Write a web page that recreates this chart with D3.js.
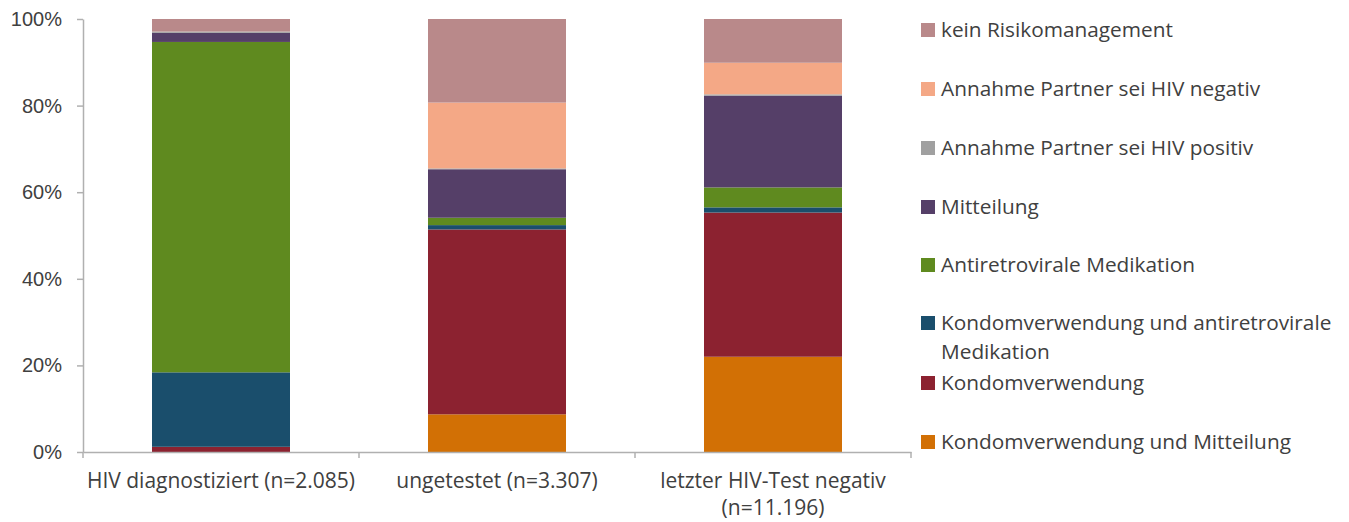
<!DOCTYPE html>
<html>
<head>
<meta charset="utf-8">
<script src="https://cdn.jsdelivr.net/npm/d3@7"></script>
<style>
  body { margin: 0; background: #fff; }
  svg { display: block; font-family: "Open Sans", Lato, sans-serif; }
  .axis path, .axis line { stroke: #b0b0b0; stroke-width: 1.5; }
  .axis text { fill: #404040; font-size: 20px; }
  .axis .cat-label { font-size: 21px; }
  .legend-text { fill: #404040; font-size: 20.8px; }
</style>
</head>
<body>
<svg></svg>
<script>
let width = 1349;
let height = 522;

let categories = ["HIV diagnostiziert (n=2.085)", "ungetestet (n=3.307)", "letzter HIV-Test negativ (n=11.196)"];
let categoryLines = [["HIV diagnostiziert (n=2.085)"], ["ungetestet (n=3.307)"], ["letzter HIV-Test negativ", "(n=11.196)"]];

// series, bottom to top of each bar
let seriesNames = [
  "Kondomverwendung und Mitteilung",
  "Kondomverwendung",
  "Kondomverwendung und antiretrovirale Medikation",
  "Antiretrovirale Medikation",
  "Mitteilung",
  "Annahme Partner sei HIV positiv",
  "Annahme Partner sei HIV negativ",
  "kein Risikomanagement"
];
let seriesColors = ["#d27005", "#8c2230", "#1a4e6c", "#5f8a1f", "#553f68", "#a0a0a0", "#f4a886", "#b9898a"];

let kondomMitteilung = [0.0, 8.7, 22.0];
let kondom = [1.2, 42.7, 33.3];
let kondomART = [17.2, 1.0, 1.2];
let art = [76.3, 1.7, 4.6];
let mitteilung = [2.1, 11.2, 21.2];
let partnerPositiv = [0.3, 0.2, 0.3];
let partnerNegativ = [0.0, 15.2, 7.3];
let keinRisiko = [2.9, 19.3, 10.1];

let yTicks = [0, 20, 40, 60, 80, 100];

let seriesValues = [kondomMitteilung, kondom, kondomART, art, mitteilung, partnerPositiv, partnerNegativ, keinRisiko];

let rows = categories.map((c, i) => {
  let row = { category: c };
  seriesNames.forEach((s, j) => { row[s] = seriesValues[j][i]; });
  return row;
});

let svg = d3.select("svg").attr("width", width).attr("height", height);

let xScale = d3.scaleBand()
  .domain(categories)
  .range([83, 911])
  .paddingInner(0.5)
  .paddingOuter(0.25);

let yScale = d3.scaleLinear().domain([0, 100]).range([452, 19]);

let stacked = d3.stack().keys(seriesNames)(rows);

// bars
svg.append("g")
  .selectAll("g")
  .data(stacked)
  .enter()
  .append("g")
  .attr("fill", (d, i) => seriesColors[i])
  .selectAll("rect")
  .data((d) => d)
  .enter()
  .append("rect")
  .attr("x", (d) => xScale(d.data.category))
  .attr("width", xScale.bandwidth())
  .attr("y", (d) => yScale(d[1]))
  .attr("height", (d) => yScale(d[0]) - yScale(d[1]));

// y axis
let yAxis = d3.axisLeft(yScale)
  .tickValues(yTicks)
  .tickFormat((d) => d + "%")
  .tickSize(6)
  .tickSizeOuter(0)
  .tickPadding(15);

svg.append("g")
  .attr("class", "axis")
  .attr("transform", "translate(83,0)")
  .call(yAxis);

// x axis, ticks between categories
let xAxis = d3.axisBottom(xScale).tickSize(0).tickSizeOuter(0).tickFormat("");
let xg = svg.append("g")
  .attr("class", "axis")
  .attr("transform", "translate(0,452)")
  .call(xAxis);

let boundaries = d3.range(categories.length + 1).map((i) => xScale.range()[0] + i * xScale.step());
xg.selectAll(".boundary")
  .data(boundaries)
  .enter()
  .append("line")
  .attr("class", "boundary")
  .attr("x1", (d) => d)
  .attr("x2", (d) => d)
  .attr("y1", 0)
  .attr("y2", 6);

let labels = svg.append("g").attr("class", "axis");
labels.selectAll("text")
  .data(categories)
  .enter()
  .append("text")
  .attr("class", "cat-label")
  .attr("x", (d) => xScale(d) + xScale.bandwidth() / 2)
  .attr("y", 488)
  .attr("text-anchor", "middle")
  .each(function (d, i) {
    d3.select(this)
      .selectAll("tspan")
      .data(categoryLines[i])
      .enter()
      .append("tspan")
      .attr("x", xScale(d) + xScale.bandwidth() / 2)
      .attr("dy", (t, k) => (k === 0 ? 0 : 27))
      .text((t) => t);
  });

// legend, top entry first
let legendItems = seriesNames.map((s, i) => ({ name: s, color: seriesColors[i] })).reverse();
let legendY = [30, 89, 148, 207, 265, 323, 383, 442];
let legendLines = {
  "Kondomverwendung und antiretrovirale Medikation": ["Kondomverwendung und antiretrovirale", "Medikation"]
};

let legend = svg.append("g")
  .attr("id", "legend")
  .selectAll("g")
  .data(legendItems)
  .enter()
  .append("g")
  .attr("transform", (d, i) => "translate(921," + legendY[i] + ")");

legend.append("rect")
  .attr("x", 0)
  .attr("y", -7)
  .attr("width", 14)
  .attr("height", 14)
  .attr("fill", (d) => d.color);

legend.append("text")
  .attr("class", "legend-text")
  .attr("x", 20)
  .attr("y", 7)
  .each(function (d) {
    let lines = legendLines[d.name] || [d.name];
    d3.select(this)
      .selectAll("tspan")
      .data(lines)
      .enter()
      .append("tspan")
      .attr("x", 20)
      .attr("dy", (t, k) => (k === 0 ? 0 : 29))
      .text((t) => t);
  });
</script>
</body>
</html>
